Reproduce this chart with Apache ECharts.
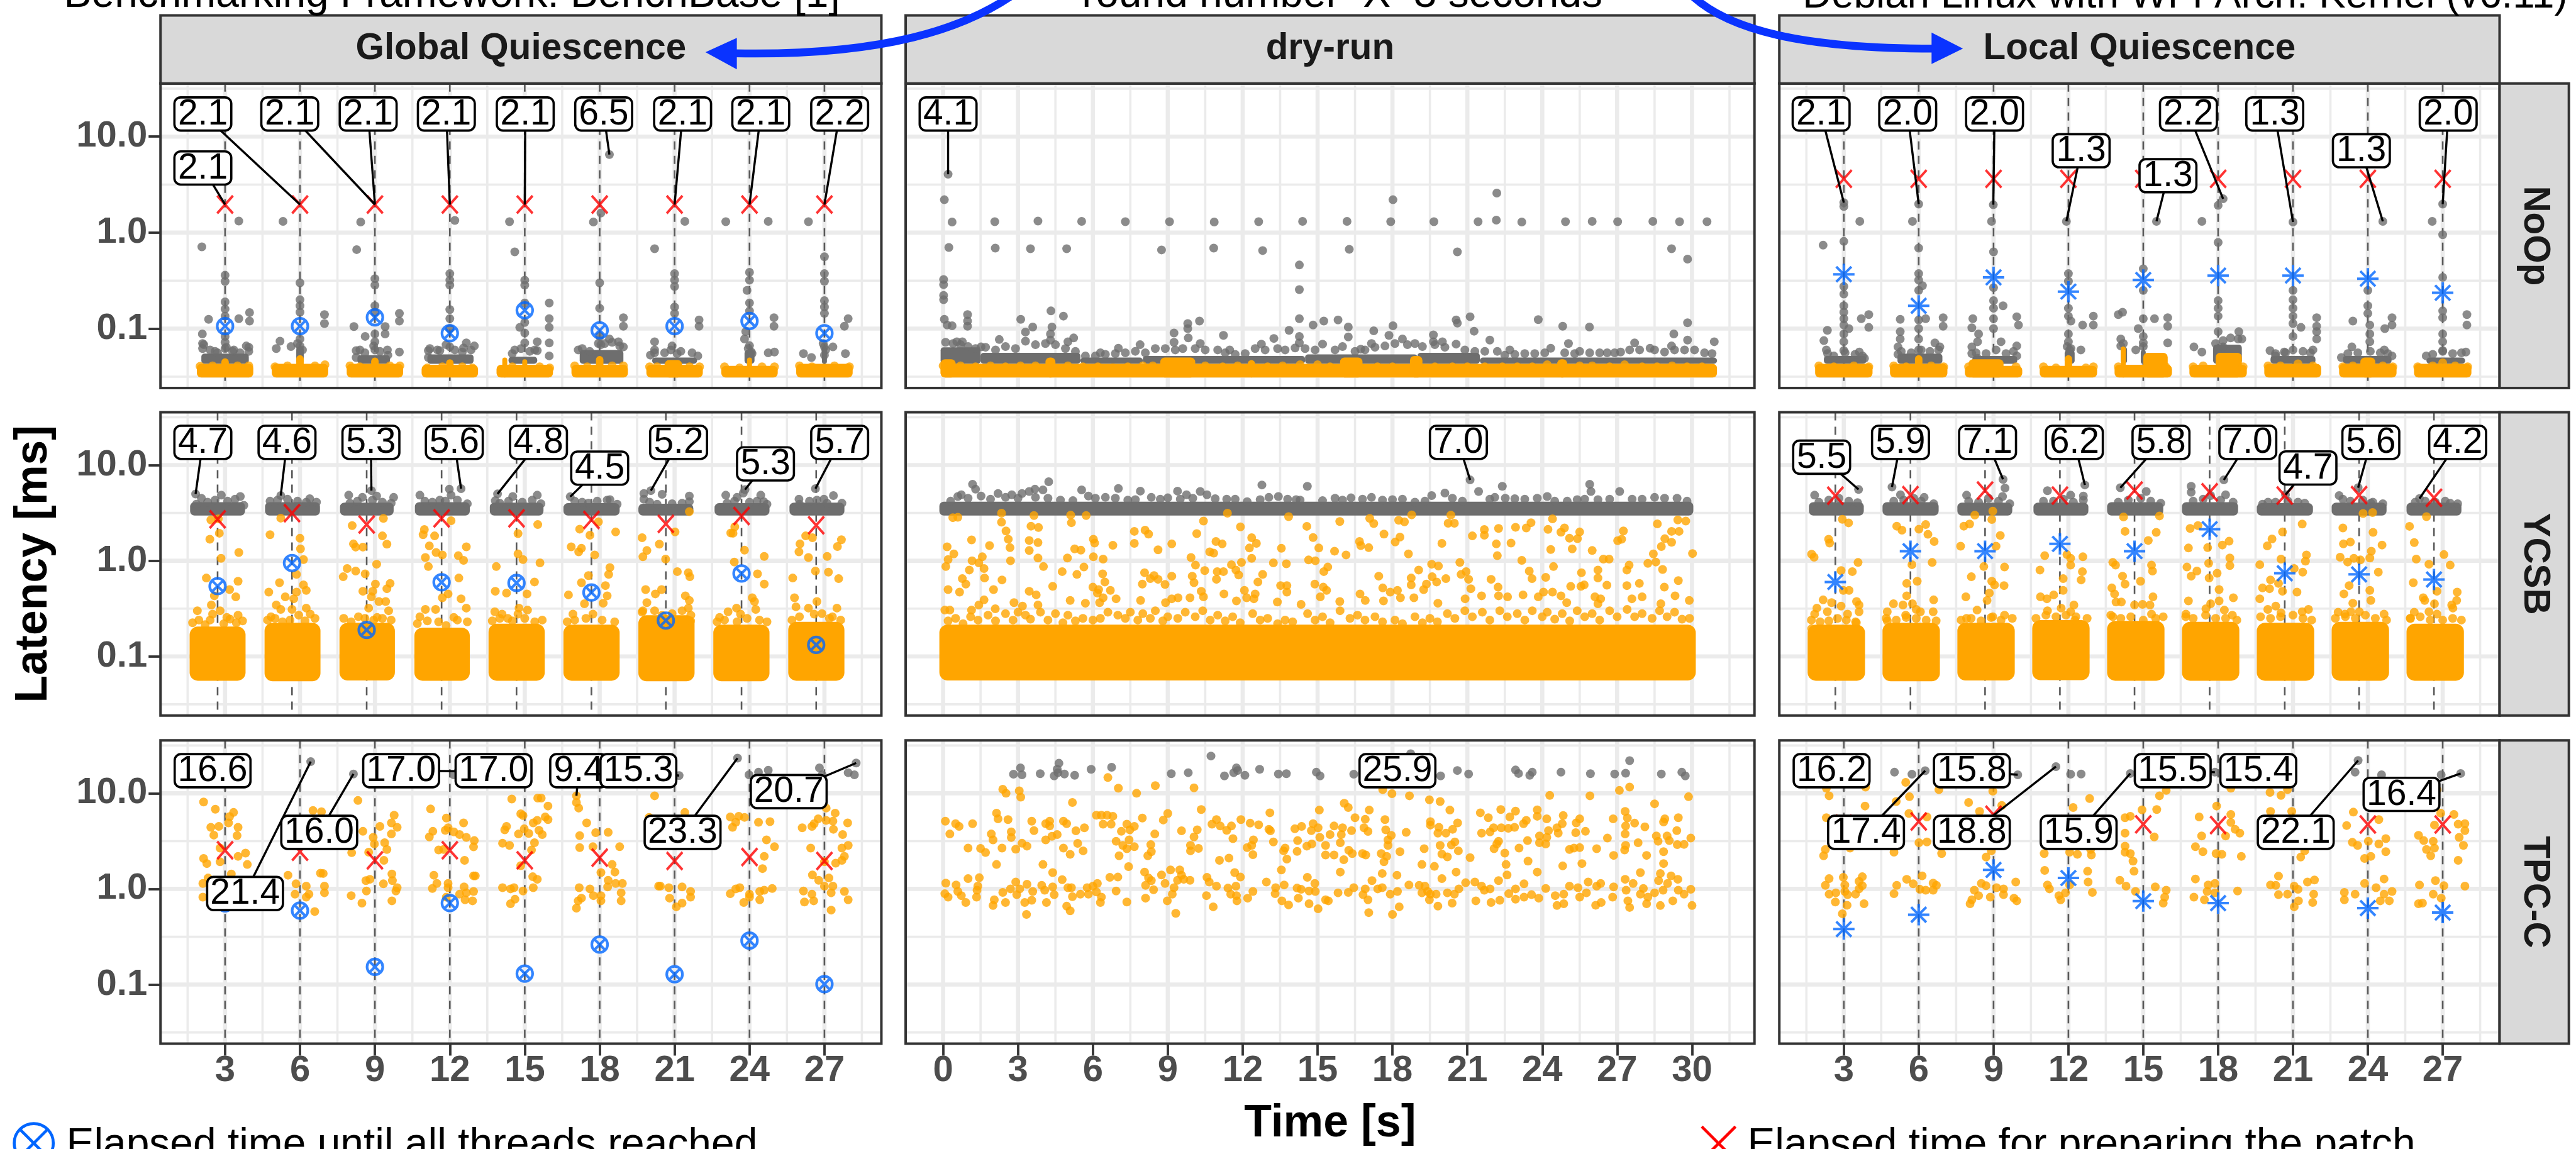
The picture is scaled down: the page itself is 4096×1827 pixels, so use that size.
<!DOCTYPE html>
<html><head><meta charset="utf-8">
<style>html,body{margin:0;padding:0;background:#fff}#c{width:4096px;height:1827px}</style>
<script src="https://cdn.jsdelivr.net/npm/echarts@6/dist/echarts.min.js"></script>
</head><body><div id="c"></div>
<script>
// ---------- axis / category data ----------
const columnNames=['Global Quiescence','dry-run','Local Quiescence'];
const rowNames=['NoOp','YCSB','TPC-C'];
const xTicksRound=[3,6,9,12,15,18,21,24,27];
const xTicksDry=[0,3,6,9,12,15,18,21,24,27,30];
const yTicks=[0.1,1,10];
const yMajor=[0.1,1,10];
const yMinor=[0.0316,0.316,3.16,31.6];
const xMajorRound=[3,6,9,12,15,18,21,24,27];
const xMinorRound=[1.5,4.5,7.5,10.5,13.5,16.5,19.5,22.5,25.5,28.5];
const xMajorDry=[0,3,6,9,12,15,18,21,24,27,30];
const xMinorDry=[-1.5,1.5,4.5,7.5,10.5,13.5,16.5,19.5,22.5,25.5,28.5,31.5];
// round start times (dashed lines); YCSB rounds are offset a little
const roundsPlain=[3,6,9,12,15,18,21,24,27];
const roundsGqYcsb=[2.7,5.68,8.67,11.67,14.67,17.67,20.65,23.68,26.67];
const roundsLqYcsb=[2.66,5.67,8.66,11.66,14.65,17.66,20.67,23.65,26.65];
// ---------- marker series ----------
const redGqNoop=[1.96,1.96,1.96,1.96,1.96,1.96,1.96,1.96,1.96];
const blueGqNoop=[.106,.106,.131,.0895,.155,.096,.106,.12,.0895];
const redGqYcsb=[2.71,3.14,2.39,2.77,2.77,2.67,2.43,2.94,2.35];
const blueGqYcsb=[.543,.947,.189,.596,.586,.466,.237,.736,.132];
const redGqTpcc=[2.53,2.45,1.99,2.53,1.99,2.12,1.96,2.15,1.96];
const blueGqTpcc=[.707,.593,.153,.711,.13,.262,.128,.288,.101];
const redLqNoop=[3.63,3.63,3.63,3.63,3.63,3.63,3.63,3.63,3.63];
const blueLqNoop=[.368,.173,.342,.243,.321,.357,.357,.331,.236];
const redLqYcsb=[4.78,4.86,5.42,4.8,5.42,5.21,4.8,4.86,4.55];
const blueLqYcsb=[.6,1.26,1.26,1.5,1.26,2.14,.74,.72,.637];
const redLqTpcc=[4.8,5.07,5.97,4.74,4.74,4.65,4.57,4.71,4.71];
const blueLqTpcc=[.38,.537,1.58,1.3,.745,.71,4.56,.63,.566];
// ---------- dense bands: [t0,t1,lowMs,highMs] ----------
const gqNoopGrayBand=[[2.05,3.95,.043,.055],[5.85,6.15,.043,.065],[8.3,9.6,.043,.053],[11.1,12.95,.043,.054],[14.35,15.5,.043,.051],[17.2,18.95,.043,.06],[20.1,21.9,.043,.05],[23.8,24.2,.043,.06],[26.9,27.1,.043,.065]];
const gqNoopOrangeBand=[[1.87,4.13,.031,.043],[2.85,3.15,.031,.049],[4.87,7.13,.031,.043],[5.85,6.15,.031,.053],[7.87,10.13,.031,.043],[8.85,9.15,.031,.05],[10.87,13.13,.031,.042],[11.85,12.15,.031,.048],[13.87,16.13,.031,.042],[14.1,14.3,.031,.05],[14.9,15.1,.031,.048],[16.87,19.13,.031,.042],[17.85,18.15,.031,.052],[19.87,22.13,.031,.042],[20.6,21.3,.031,.047],[22.87,25.13,.031,.041],[23.9,24.1,.031,.05],[25.87,28.13,.031,.043]];
const lqNoopGrayBand=[[2.2,3.9,.043,.052],[5.15,6.95,.043,.055],[8.15,9.95,.043,.052],[11.85,12.25,.043,.06],[14.1,14.35,.043,.065],[14.9,15.1,.043,.06],[17.8,18.95,.043,.068],[20.1,21.9,.043,.052],[23,24.95,.043,.052],[26.35,27.9,.043,.05]];
const lqNoopOrangeBand=[[1.85,4.15,.031,.043],[4.85,7.15,.031,.043],[5.85,6.15,.031,.053],[7.85,10.15,.031,.041],[8,9.4,.031,.048],[10.85,13.15,.031,.041],[11.85,12.15,.031,.053],[13.85,16.15,.031,.042],[14.1,14.3,.031,.065],[15,15.98,.031,.056],[16.85,19.15,.031,.042],[17.9,18.95,.031,.056],[19.85,22.13,.031,.043],[22.85,25.15,.031,.043],[23.7,24.3,.031,.05],[25.85,28.15,.031,.043]];
const dryNoopGrayBand=[[-.1,1.5,.043,.064],[1.5,5.5,.043,.056],[5.5,8,.043,.05],[8,14.5,.043,.052],[14.5,19,.043,.054],[19,21.5,.043,.056],[21.5,31,.043,.05]];
const dryNoopOrangeBand=[[-.1,31,.031,.043],[-.1,.5,.031,.048],[4.1,4.5,.031,.05],[8.7,10.1,.031,.05],[12.2,12.5,.031,.047],[15.9,16.8,.031,.05],[18.7,19.2,.031,.052],[24.6,25,.031,.048]];
const gqYcsbGrayBand=[[1.6,3.8,2.97,4.1],[4.6,6.8,2.97,4.1],[7.6,9.75,2.97,4.05],[10.6,12.8,2.97,4.1],[13.6,15.75,2.97,4.05],[16.55,18.8,2.97,4],[19.55,21.75,2.97,3.95],[22.6,24.8,2.97,4],[25.6,27.8,2.97,4.05]];
const gqYcsbOrangeBand=[[1.58,3.82,.0557,.205],[4.58,6.82,.055,.225],[7.58,9.8,.056,.225],[10.58,12.8,.0557,.2],[13.55,15.8,.0557,.22],[16.55,18.8,.0557,.215],[19.55,21.8,.055,.27],[22.55,24.8,.055,.215],[25.55,27.8,.0557,.23]];
const dryYcsbGrayBand=[[-.15,30.05,2.97,4.15]];
const dryYcsbOrangeBand=[[-.15,30.15,.056,.215]];
const lqYcsbGrayBand=[[1.6,3.8,2.97,4.1],[4.55,6.8,2.97,4.1],[7.55,9.75,2.97,4.05],[10.6,12.8,2.97,4.05],[13.55,15.8,2.97,4.1],[16.55,18.8,2.97,4.1],[19.55,21.8,2.97,4],[22.55,24.75,2.97,4.05],[25.55,27.75,2.97,4.05]];
const lqYcsbOrangeBand=[[1.55,3.85,.0557,.215],[4.55,6.85,.055,.225],[7.55,9.85,.056,.225],[10.55,12.85,.0565,.24],[13.55,15.85,.0557,.235],[16.55,18.85,.0557,.23],[19.55,21.85,.0557,.225],[22.55,24.85,.0557,.23],[25.55,27.85,.0557,.22]];
// ---------- points: t,ms,t,ms,... ----------
const gqNoopGray=[3.55,1.32,2.07,.71,3,.36,3,.31,3,.19,3,.16,3,.135,2.34,.125,3.55,.127,3.98,.147,3.98,.12,2.09,.088,3,.083,3,.072,2.1,.07,2.1,.062,3,.062,3.95,.064,3.95,.058,2.6,.058,3.3,.058,
5.32,1.31,6,.3,6,.2,6,.173,6,.148,6.98,.14,6.98,.113,5.2,.074,5.05,.062,5.64,.065,6,.078,6,.066,
8.43,1.29,8.27,.665,9,.331,9,.284,9,.173,9,.148,9.98,.144,9.98,.12,8.16,.105,8.61,.083,9.41,.105,9.41,.088,9,.088,9,.073,8.25,.059,8.25,.05,9,.06,9.52,.053,9.98,.057,
12.2,1.34,12,.374,12,.32,12,.284,12,.158,12,.127,12,.1,11.14,.059,11.14,.05,12.66,.071,12.98,.066,12,.0645,11.6,.059,12.5,.057,
14.39,1.3,14.6,.63,15,.32,15,.284,15.98,.185,15.98,.127,15.98,.103,15,.185,15,.116,14.8,.103,15,.09,15.98,.071,15.98,.052,14.6,.06,15,.071,15.5,.073,15.5,.059,
18.39,6.5,18.05,1.6,17.75,1.29,18,.3,18,.163,18.95,.13,18.95,.106,18,.083,18.39,.078,18.75,.073,18.95,.0645,17.14,.06,18.05,.068,
21.41,1.31,20.2,.68,21,.374,21,.32,21,.275,21,.168,21,.144,21.98,.123,21.98,.106,20.2,.073,20.2,.06,20.03,.053,20.9,.066,21.1,.055,21.93,.052,
23.05,1.3,24.75,1.31,24,.386,24,.32,23.9,.25,24,.185,24,.153,24.98,.13,24.98,.106,23.85,.093,23.8,.078,24,.0665,24.07,.057,24.75,.056,25,.057,
26.36,1.3,27,.56,27,.374,27,.311,27,.196,27,.168,27,.144,27.95,.127,27.8,.106,27.34,.0645,26.16,.055,26.48,.05,27,.0645,27,.053,27.84,.055,
2.15,.068,2.4,.06,2.7,.056,3.05,.064,3.35,.06,3.6,.056,3.85,.066,5.9,.07,6.1,.06,8.4,.06,8.6,.056,8.95,.066,9.2,.058,9.5,.06,11.2,.062,11.5,.06,11.85,.068,12.2,.06,12.55,.063,12.85,.06,14.5,.055,14.85,.062,15.2,.058,15.4,.06,17.3,.062,17.6,.058,17.95,.07,18.2,.07,18.5,.072,18.8,.066,20.2,.056,20.6,.056,20.85,.06,21.25,.058,21.7,.056,23.95,.062,24.1,.055,26.95,.07,27.05,.06];
const lqNoopGray=[3,2.05,3,1.87,3.64,1.31,2.17,.74,3,.81,3,.275,3,.229,3,.173,3,.148,3,.127,3,.109,4,.14,4,.103,3.7,.127,3.2,.1,2.34,.096,3,.088,3,.073,2.2,.075,2.3,.06,3.62,.057,3,.059,3.83,.049,
6,1.98,5.75,1.31,6,.69,6,.374,6,.32,6.15,.28,6,.25,6.98,.13,6.98,.106,5.26,.125,6.28,.127,6,.123,6,.1,5.26,.093,5.26,.078,6,.078,6.65,.071,6.85,.0645,5.17,.0645,5.17,.054,6,.06,
8.99,1.95,8.92,1.31,9,.63,9,.267,9,.196,9,.163,9,.127,9.38,.173,8.17,.127,9.93,.133,10,.109,8.13,.102,8.4,.088,8.36,.073,8.13,.0645,8.13,.055,9,.1,9.3,.073,9.93,.066,8.36,.049,9.93,.052,
11.92,1.31,12,.374,12,.311,12,.163,12,.135,12.1,.12,13,.135,13,.109,12.57,.109,12,.088,12,.073,12.5,.06,12.05,.06,
15.53,1.31,15,.42,15,.25,14.17,.148,14,.14,15,.127,15.45,.127,15.98,.13,15.98,.106,14.8,.1,15,.083,15.98,.071,14.1,.078,14.1,.066,14.7,.06,15,.071,
18.2,2.25,18,1.92,17.35,1.31,18,.79,18,.196,18,.163,18,.135,18,.093,18.83,.093,18.95,.078,17.03,.0645,17.35,.057,18.2,.0645,
21,1.29,21,.25,21,.2,21,.163,21,.135,21,.113,21.95,.13,21.95,.106,21.95,.093,21.95,.078,21.32,.103,21,.083,20.08,.059,20.3,.052,20.65,.057,21.8,.06,
24.6,1.31,24,.25,24,.173,24,.144,24.97,.13,24.97,.109,23.4,.12,24.68,.1,24.08,.109,24.08,.088,24.08,.073,22.94,.05,23.36,.0645,24.66,.06,24.97,.052,
27,1.98,26.58,1.31,27,.95,27,.342,27,.153,27,.13,27.97,.14,27.97,.109,27,.088,27,.073,26.34,.052,27.93,.057,27,.059,
2.35,.055,2.6,.052,3.05,.056,3.45,.054,3.75,.052,5.3,.058,5.7,.056,6.1,.06,6.45,.058,6.8,.06,8.3,.056,8.7,.055,9.1,.06,9.5,.055,9.8,.058,11.95,.065,12.1,.062,14.2,.07,15,.065,17.9,.07,18.2,.075,18.5,.08,18.8,.078,20.3,.055,20.7,.056,21,.06,21.4,.058,21.7,.056,23.2,.055,23.6,.056,24.1,.058,24.5,.056,24.8,.055,26.6,.054,27,.058,27.4,.055,27.75,.056];
const dryNoopGray=[.2,4.05,.05,2.2,.36,1.29,2.07,1.3,3.8,1.32,5.55,1.31,7.3,1.3,9.07,1.3,10.86,1.29,12.64,1.3,14.4,1.31,16.18,1.31,17.93,1.3,19.66,1.3,21.43,1.3,23.18,1.29,24.93,1.3,26,1.31,27.02,1.3,28.43,1.31,29.5,1.3,30.6,1.3,18.02,2.2,22.18,2.58,22.16,1.35,.23,.7,2.09,.69,3.5,.68,4.95,.68,8.75,.66,10.84,.69,12.8,.65,16.27,.67,20.6,.63,29.18,.68,29.82,.53,14.27,.46,14.27,.255,.02,.325,.02,.287,.02,.222,.02,.2,.05,.125,.16,.109,.36,.107,.98,.14,.98,.12,.98,.106,3.11,.125,4.32,.153,4.82,.135,3.59,.104,4.36,.104,3.3,.092,2.25,.077,3.3,.074,4.3,.088,4.3,.076,5.23,.08,5,.073,7.89,.068,7.02,.0625,10.27,.12,9.8,.113,9.8,.1,9.25,.09,9.82,.08,9.25,.072,11.23,.085,10.3,.07,11.48,.06,13.25,.079,13.86,.096,14.27,.127,14.82,.109,15.25,.12,15.82,.123,16.23,.104,16.23,.082,17.25,.095,18.02,.107,17.86,.085,17.16,.07,16.73,.061,14.27,.083,14.27,.071,12.75,.069,15.2,.069,18.4,.078,19.64,.086,19.64,.073,20.55,.123,20.6,.114,21.11,.133,21.27,.094,21.9,.076,20,.073,20.55,.069,23.84,.124,24.82,.106,25.89,.104,25.05,.07,22.7,.06,24.34,.0625,27.7,.071,29.82,.115,29.27,.088,29.82,.076,29.18,.066,30.89,.073,28.32,.0625,27.14,.057,.55,.073,.77,.073,1.52,.0645,30.1,.06,2.5,.065,6.3,.056,9.6,.062,11,.06,13.4,.062,16,.065,18.6,.068,19.2,.065,22.2,.058,25.5,.058,26.6,.056,28.9,.057,
.1,.072,.4,.07,.7,.068,1,.065,1.3,.062,1.7,.064,2.1,.06,2.9,.062,3.7,.068,4.1,.07,4.5,.068,4.9,.062,5.3,.058,5.7,.052,6.1,.052,6.5,.054,6.9,.055,7.3,.056,7.7,.058,8.1,.056,8.5,.062,8.9,.062,9.3,.06,10.1,.062,10.5,.06,11.3,.056,11.7,.054,12.1,.055,12.5,.062,12.9,.06,13.7,.06,14.1,.063,14.5,.062,14.9,.06,15.7,.06,16.5,.058,16.9,.06,17.3,.064,17.7,.066,18.1,.07,18.9,.07,19.7,.068,20.1,.064,20.9,.06,21.3,.058,21.7,.058,22.5,.053,22.9,.054,23.3,.055,23.7,.055,24.1,.056,24.9,.056,25.3,.055,25.9,.056,26.3,.056,26.9,.056,27.5,.06,27.9,.06,28.5,.06,29.3,.06,29.7,.06,30.5,.056,30.8,.055];
const gqYcsbGray=[1.82,4.99,2.85,4.85,3.61,4.7,2.05,4.5,5.23,4.8,6.39,4.45,6.66,4.1,8.86,5.41,7.95,4.85,8.5,4.6,9.75,4.6,9.07,4.75,12.45,5.67,11.98,5.6,10.8,4.85,12.05,4.85,11.82,4.2,13.91,5,14.52,4.7,15.5,4.85,13.82,4.25,16.82,4.67,18.41,4.35,17.55,4,20.05,5.41,19.77,5.05,20.5,4.95,19.77,4.4,21.59,4.75,21.59,4.15,23.82,5.55,23.05,4.85,23.5,4.6,24.45,4.85,24.57,4.15,23.75,5.1,26.64,5.67,27.36,4.8,25.98,4.4,26.98,4.4,
1.85,3.9,2.3,4.1,2.6,4.3,3.1,4.2,3.4,4.4,3.75,3.8,4.8,4.2,5.1,4.3,5.5,4.4,5.9,4.2,6.25,4.1,8,4,8.3,4.2,8.9,4.3,9.3,4.1,9.65,4,11,4.2,11.3,4.1,11.6,4.3,12.3,4.3,12.7,3.95,14,4,14.35,4.2,14.9,4.1,15.3,4.3,15.65,3.95,17,4.2,17.3,4.1,17.9,4.2,18.3,4.3,18.7,3.9,20,4.1,20.3,3.9,20.9,3.95,21.3,4,23.1,4,23.4,4.2,24,4.1,24.3,4.2,24.7,3.9,26,3.9,26.4,4.2,26.7,4.3,27.1,4,27.7,4];
const lqYcsbGray=[3.59,5.56,4.93,5.9,9.38,7.1,12.66,6.2,14.08,5.8,18.23,7,20.7,4.9,23.61,5.8,26.07,4.47,1.83,4.85,5.27,4.9,6.22,4.6,9.46,5.75,7.92,4.85,9.36,4.7,11.16,5.4,12.09,4.85,12.6,4.75,15.12,5.3,16.92,6,16.92,5.2,18.3,4.9,22.85,4.8,24.12,4,27.3,4,21.47,4,19.78,3.9,
2,4.1,2.4,4.3,2.8,4.5,3.2,4.2,3.55,4.05,5,4.2,5.4,4.3,5.8,4.5,6.1,4.2,6.6,3.95,8,4.2,8.4,4.1,8.8,4.5,9.2,4.2,9.65,3.95,11,4.2,11.4,4.2,11.8,4.4,12.2,4.1,12.6,4.3,14,4.1,14.4,4.3,14.9,4.5,15.3,4.2,15.7,4,17,4.2,17.4,4.4,17.7,4.8,18.1,4.3,18.6,4.1,20,4.1,20.3,4.1,20.8,4.2,21.2,4.1,23,4.4,23.3,4.2,23.8,4.3,24.2,4.1,24.6,3.95,25.9,4.1,26.3,4.2,26.7,4.1,27.1,4.2,27.6,3.95];
const dryYcsbGray=[1.18,6.3,1.3,5.6,4.23,6.7,4,5.5,3.68,5.6,5.55,5.5,7.02,5.7,7.9,5.35,9.39,5.35,10.3,5.3,10.57,4.9,9.75,4.9,12.77,6.2,14.59,6,21.11,7,22.4,6,21.45,5.3,19.57,4.8,20.1,5.1,22.1,4.6,25.9,6.3,25.95,5.3,27.1,5.3,24.2,4.7,22.52,4.5,28.5,4.6,29.4,4.5,.59,4.7,.73,4.9,1.52,4.75,2.2,5.05,2.75,4.9,3.16,5.05,3.45,5.3,5.82,4.75,6.5,4.6,8.34,4.6,9,4.55,11.36,4.4,12.18,4.15,13.43,4.7,13.05,4.6,14.14,4.35,15.7,4.5,17.16,4.6,18.4,4.4,16.34,4.55,24.5,4.2,25.4,4.35,26.23,4.35,
.3,4.2,1,4.5,1.9,4.4,2.5,4.6,3,4.5,3.7,4.6,4.2,4.5,4.7,4.3,5.2,4.25,6.1,4.5,6.9,4.5,7.4,4.3,7.7,4.35,8.7,4.4,9.5,4.4,10,4.5,10.9,4.45,11.7,4.4,12.7,4.35,13.8,4.4,14.3,4.3,15.2,4.25,16,4.3,16.8,4.4,17.6,4.3,18,4.35,18.9,4.1,19.3,4.2,20.4,4.5,20.8,4.2,21.9,4.4,22.9,4.45,23.3,4.4,23.8,4.5,25,4.2,25.7,4.4,26.7,4.4,27.6,4.4,28,4.4,28.9,4.5,29.8,4.2];
const gqTpccGray=[2.91,16.4,3.75,16.1,6.43,21.4,8.14,15.9,8.77,15.9,12.16,15.6,12.34,17,15.11,16.9,21.18,15.3,23.52,23.3,23.98,15.6,24.36,16.6,24.75,17.4,26.8,18.4,26.91,15.6,27.95,16.4,28.2,15.6,28.27,20.7];
const lqTpccGray=[2.36,15.6,3.04,15.8,3.25,16.2,3.89,16.1,5.03,16.6,5.73,15.8,6.26,17.2,9.97,15.6,11.5,19,12.09,15.8,12.51,15.9,14.48,16.1,15.27,15.6,15.6,15.4,17.87,16.6,23.61,22,23.49,16.6,24.55,15.6,26.94,15.6,27.72,16.1];
const dryTpccGray=[10.73,24.5,18.73,25.9,4.64,20.6,27.5,21.9,3.1,18.4,6.75,18.7,5.93,17.8,4.57,17.8,2.82,15.8,3.16,15.6,3.89,16,4.45,15.2,4.6,16.4,4.86,15.9,5.27,15.4,9.14,16,9.82,16.4,11.27,15.2,11.64,16.4,11.75,18.4,11.8,17.3,12.09,15.4,12.68,17.8,13.43,15.9,13.75,16,14.95,16.6,15.1,15.2,16.45,15.8,16.8,16.6,17.25,16.1,18,16.4,18.55,15.6,19.93,15.2,20.6,17.3,21.05,15.9,22.93,17.5,23.05,16.1,23.5,15.4,23.6,16.6,24.75,16.6,25.93,16,26.9,15.9,27.34,16.2,28.77,15.9,29.59,16.6,29.73,15.2];
const gqNoopOrange=[2,.0405,2.5,.041,3.5,.041,3.95,.041,5,.04,5.5,.041,6.6,.041,7,.042,8,.041,8.4,.04,9.6,.041,10,.041,11.1,.039,11.7,.04,12.5,.04,12.9,.039,14.5,.04,15.6,.04,16,.039,17,.041,17.5,.04,18.5,.041,18.95,.041,20,.04,20.3,.04,21.6,.04,22,.04,23,.04,23.6,.039,24.5,.04,25,.04,26,.041,26.5,.04,27.4,.041,28,.04];
const lqNoopOrange=[2,.041,2.6,.04,3.4,.041,4,.04,5,.041,5.5,.04,6.5,.041,7,.04,8,.04,9.9,.04,11,.04,11.5,.039,12.7,.039,13,.04,14,.04,15.9,.04,17,.04,17.4,.041,19,.04,20,.041,20.5,.041,21.2,.043,21.8,.041,23,.04,23.4,.041,24.6,.041,25,.04,26,.04,26.6,.041,27,.044,27.5,.041,28,.04];
const dryNoopOrange=[0,.041,.7,.041,1.3,.04,1.9,.041,2.5,.04,3.1,.041,3.7,.041,5,.041,5.6,.04,6.2,.04,6.8,.039,7.4,.04,8,.041,8.4,.041,10.5,.041,11.2,.04,11.8,.041,13,.04,13.6,.041,14.3,.042,15,.042,15.5,.04,17.4,.04,18,.04,19.7,.04,20.4,.04,21,.04,21.7,.04,22.4,.04,23,.04,23.6,.04,24.2,.042,25.5,.041,26,.041,26.7,.04,27.3,.042,28,.04,28.6,.04,29.2,.041,29.8,.04,30.4,.04];
const gqYcsbOrange=[2.43,2.67,2.73,2.74,2.77,1.94,2.39,1.68,3.55,1.22,2.84,1.06,2.25,.66,3.52,.61,3.18,.5,2.57,.43,3.43,.42,2.45,.345,1.89,.3,2.8,.3,2.5,.277,3.52,.27,3.07,.256,
5.23,2.79,4.8,1.87,6,1.72,6.02,1.33,6.14,1.03,5.18,.59,5.86,.72,4.75,.47,6.14,.56,6.25,.49,5.86,.47,5.41,.42,5.75,.4,5.05,.345,5.23,.31,5.68,.31,6.25,.32,6.41,.277,4.84,.26,
9.34,2.77,8.09,2.33,9.3,1.82,8.14,1.5,8.52,1.39,9.48,1.49,8.23,1.39,9.07,.92,7.89,.83,8.23,.78,8.61,.73,7.73,.68,9.02,.57,9.61,.58,9.48,.51,8.52,.48,8.91,.48,8.86,.42,9.16,.375,9.43,.375,8.75,.32,9.55,.3,9.09,.256,8.34,.26,
12.05,2.62,10.98,2.12,11.39,1.82,10.93,1.87,11.18,1.43,12.66,1.4,11.45,1.22,11.7,1.15,12.34,1.13,11.02,1.08,12.55,1.01,11.14,.87,12.36,.66,11.93,.45,11.7,.41,12.45,.4,11.02,.31,11.43,.31,12.66,.32,10.8,.26,12.16,.256,
15.52,2.39,14.73,1.92,14.73,1.18,14.93,1.03,15.61,.95,13.86,.87,15.39,.6,13.82,.48,14.27,.46,15.09,.45,14.77,.32,15.11,.305,13.8,.293,14.09,.277,14.73,.277,14.32,.25,
17.95,2.55,17.2,2.14,18.64,2,17.61,1.85,16.86,1.4,17.27,1.35,17.16,1.24,17.8,1.15,18.41,.85,18.36,.72,17.55,.7,17.27,.59,18.23,.55,16.75,.44,18.3,.43,18.14,.36,17.39,.355,17.73,.277,16.93,.277,
21.59,3.26,21.02,2,19.7,1.74,20.39,1.49,19.89,1.28,19.73,1.1,20.64,1.04,21.11,.77,21.55,.75,21.61,.68,19.84,.5,20.48,.5,20.23,.45,21.43,.43,21.59,.385,19.89,.365,21.55,.32,19.73,.3,21.64,.235,
23.41,2.26,23.25,1.95,23.34,1.94,23.8,1.29,23.39,.97,24.59,1.11,24.32,.73,24.59,.57,24.11,.41,24.2,.375,23.48,.32,24.25,.31,23.14,.293,22.8,.256,23.64,.277,
26.25,1.82,26.52,1.74,26.02,1.5,27.68,1.66,27.52,1.41,25.98,1.24,26.36,1.08,27.11,1.11,26.64,.78,27.16,.76,27.57,.65,25.73,.66,25.8,.41,25.86,.33,26.7,.375,27.5,.32,27.32,.26,26.59,.277,26.36,.32,
1.7,.225,1.95,.24,2.2,.215,2.4,.24,2.95,.22,3.2,.245,3.45,.225,3.7,.235,4.7,.24,5,.25,5.3,.23,5.6,.24,5.95,.27,6.2,.235,6.6,.25,7.75,.25,8.05,.23,8.6,.25,8.95,.24,9.3,.25,9.65,.24,10.7,.22,11.1,.235,11.55,.23,11.85,.21,12.3,.24,12.7,.23,13.7,.235,14,.25,14.5,.235,15,.25,15.4,.23,15.7,.24,16.7,.23,17,.24,17.45,.25,18.1,.24,18.6,.23,19.7,.29,20.2,.3,20.5,.27,20.9,.28,21.3,.3,21.65,.27,22.7,.23,23,.24,23.5,.23,23.9,.25,24.4,.24,24.7,.23,25.7,.24,26,.26,26.9,.28,27.2,.25,27.65,.24];
const lqYcsbOrange=[2.94,2.71,3.19,2.49,2.39,1.68,2.43,1.53,1.71,1.17,1.81,1.09,3.57,.96,2.89,.79,3.34,.77,3.21,.49,2.98,.49,2.17,.39,3.51,.375,3.61,.345,3.61,.293,1.92,.32,1.83,.277,2.89,.336,2.51,.365,3.15,.277,2.34,.293,3.47,.23,1.71,.195,
6.28,2.39,5.12,2.3,5.33,2.09,6.01,2.14,6.37,1.89,6.62,1.59,6.54,.96,5.73,.91,5.52,.58,5.94,.61,5.52,.43,6.6,.39,4.99,.355,5.37,.345,5.75,.355,4.74,.293,5.9,.31,6.58,.293,6.07,.293,5.48,.27,4.74,.235,
8.25,3,8.97,3.3,8.93,2.7,8.04,2.42,7.81,2.3,9.27,1.84,7.68,1.42,9.1,1.42,8.61,.87,9.44,.86,8.11,.68,8.93,.61,9.42,.55,9.04,.56,7.89,.42,8.83,.46,8.74,.385,8.34,.305,9.44,.27,8.97,.26,7.92,.25,
11.94,1.16,12.58,1.1,11.05,1.13,12.09,1.06,12.09,.9,10.86,.8,12.56,.77,11.79,.65,12.51,.63,11.79,.49,10.88,.42,11.41,.44,11.14,.4,12.22,.345,11.71,.32,11.16,.3,12.09,.293,12.26,.24,
14.21,2.87,15.65,2.94,14.27,2.03,15.52,1.98,15.2,1.63,13.78,.96,13.89,.9,15.33,.9,15.37,.78,14.17,.69,14.89,.61,14.27,.57,13.74,.52,13.85,.45,15.39,.42,13.91,.37,14.12,.37,14.65,.345,15.27,.345,14.97,.35,13.78,.26,15.33,.277,
16.88,2.18,17.19,2.33,16.81,1.36,17.58,1.37,18.17,1.46,18.44,1.6,18.47,1.07,17.62,.94,16.75,.86,17.15,.78,18.47,.89,16.92,.69,17.96,.74,17.64,.66,18.04,.5,18.61,.41,16.81,.38,18.04,.38,17.7,.355,17.51,.315,18.25,.305,18.57,.27,16.71,.277,
21.37,2.42,20.58,2,20.16,1.69,19.97,1.43,21.54,1.15,21.5,.99,20.52,1.04,19.67,.91,21.05,.83,21.39,.76,20.1,.63,20.42,.58,19.78,.52,20.06,.51,20.58,.48,21.16,.47,19.67,.4,20.31,.336,19.99,.31,21.62,.31,21.37,.293,20.52,.285,
23.81,3.12,24.19,3.19,23,2.2,24.21,1.98,23.02,1.5,23.3,1.57,24.57,1.46,24.14,1.26,24.08,1.07,22.89,1.09,23.44,1.06,23.7,1.02,23.19,.97,24.42,.76,23.25,.55,24.08,.49,23.04,.45,24.12,.385,23.4,.36,22.81,.29,23.32,.293,23.08,.277,24.65,.277,23.66,.293,
26.35,2.89,25.67,2.29,25.86,1.55,27.05,1.16,25.94,1.04,27.3,.9,26.45,.92,25.82,.59,27.58,.47,26.22,.41,26.77,.48,27.56,.385,26.28,.385,26.67,.355,27.36,.345,25.86,.29,26.45,.293,26.77,.277,27.41,.32,25.71,.25,
1.7,.24,2.05,.23,2.4,.235,2.75,.25,3.1,.24,3.5,.225,4.7,.25,5.1,.24,5.5,.255,5.9,.25,6.3,.24,6.7,.235,7.7,.24,8.1,.25,8.5,.235,8.9,.255,9.3,.24,9.75,.25,10.7,.25,11.1,.27,11.5,.26,11.9,.27,12.3,.26,12.75,.25,13.7,.27,14.1,.25,14.5,.26,15,.24,15.5,.25,15.8,.26,16.7,.26,17,.25,17.5,.27,17.9,.25,18.3,.25,18.75,.24,19.7,.26,20.1,.25,20.5,.26,21,.27,21.4,.25,21.75,.24,22.7,.25,23.1,.26,23.5,.25,23.9,.27,24.3,.25,24.75,.24,25.7,.25,26.1,.26,26.5,.24,27,.24,27.4,.25,27.75,.24];
const dryYcsbOrange=[2.34,3.14,3.64,2.97,5.11,3,5.73,2.97,.39,2.82,.59,2.85,2.34,2.53,5.14,2.5,3.52,2.3,3.82,2.23,2.52,2.05,2.61,1.68,1.14,1.65,1.86,1.44,.16,1.4,2.68,1.37,3.45,1.63,3.8,1.55,3.45,1.28,.43,1.18,3.8,1.07,.2,1.03,2.7,1,1.16,1,1.57,1.1,.11,.87,1.43,.95,1.64,.83,1.05,.8,.77,.65,.91,.57,1.66,.66,2.36,.63,.2,.5,.66,.47,2.02,.5,4.02,.87,4.77,.77,5.36,.72,5.64,.86,4.98,1.07,6.02,1.1,6.41,1.04,6.02,1.68,6.07,1.53,6.8,1.45,5.27,1.33,5.52,1.29,6.39,.73,6.48,.6,4.39,.54,6,.53,6.23,.5,6.7,.49,3.45,.48,3.73,.44,6.18,.46,6.41,.41,6.93,.4,5.09,.385,6.27,.365,5.7,.36,7.91,.385,1.64,.39,1.43,.345,2.84,.365,3.18,.336,3.8,.345,2.09,.315,1.14,.305,.07,.305,.27,.305,
7.66,2.03,8.09,2.09,8.23,1.9,7.66,1.52,9.16,1.5,8.61,1.3,8.07,.75,8.45,.7,8.3,.65,7.98,.57,8.61,.64,8.89,.565,9.16,.69,9.98,.69,10.05,.59,10.34,.48,11.25,.45,10.43,.42,9.89,.41,9.41,.41,9.16,.4,8.91,.365,10.16,1.92,10.43,2.6,11.91,2.26,11.39,3.14,12.36,1.74,12.55,1.52,12.27,1.36,10.93,1.59,11.18,1.5,10.68,1.24,10.84,1.2,13.55,1.35,9.93,1.08,10.11,.9,11.95,.96,11.55,.91,12.36,1.06,10.48,.79,10.98,.77,11.23,.77,11.73,.8,11.84,.71,12.8,.72,12.61,.6,10.95,.64,12.07,.49,12.5,.45,12.16,.41,12.45,.4,11.75,.38,13.39,.37,13.52,.55,13.77,.55,13.77,.47,13.23,.95,13.75,.93,
14.57,2.29,14.82,1.75,15.05,1.36,15.68,1.26,16.14,1.15,14.64,1.02,14.91,1,13.84,2.89,15.89,2.57,17.09,2.77,17.25,2.45,17.66,1.9,16.68,1.59,16.73,1.44,17.05,1.37,18.11,1.57,18.3,1.77,18.25,2.65,18.48,2.55,18.77,3.02,18.64,1.18,15.41,.86,15.25,.77,17.45,.69,14.89,.57,15.23,.53,15.36,.49,15.11,.42,14.34,.35,16.7,.45,15.89,.375,16.91,.385,17.64,.38,17.61,.52,17.91,.47,18.2,.49,18.32,.41,18.86,.41,18.75,.66,18.75,.56,19.25,.5,19.36,.57,19.05,.8,19.57,.92,19.84,.88,20.7,.96,20.95,.77,20.75,.72,21.05,.64,19.59,.68,19.77,.6,20.14,.65,21.14,.51,21.95,.64,22.23,.53,20.91,.4,21.57,.43,22.25,.43,22.61,.42,23.23,.44,19.82,.36,20.34,3,20.23,2.47,20.48,2.47,19.98,1.52,21.2,1.82,21.68,2.12,21.68,1.85,22.25,2.18,22.16,1.5,22.75,1.53,22.2,1.13,22.93,2.24,23.36,2.2,23.55,2.5,23.18,1.01,23.48,.78,23.59,.65,24.14,.67,24.41,2.74,24.23,2.13,24.89,2.2,24.75,1.99,25.5,2,25.09,1.72,25.41,1.7,24.34,1.31,25.2,1.33,26,1.28,24.45,.87,25.57,.75,26.23,.8,26.23,.66,25.14,.54,25.55,.54,25.68,.56,26.59,.555,24.05,.47,24.41,.47,24.75,.43,23.84,.42,24.98,.365,26.11,.42,26.34,.4,26.23,.355,27.25,2.05,27.02,1.62,27.18,1.68,26.45,1.04,26.68,1.04,27.48,.9,27.39,.8,28.23,.94,28.55,.97,27.39,.55,27.89,.58,28.89,.53,28.82,.81,29.45,.62,27.59,.4,28,.42,29.32,.43,29.89,.385,28.75,.355,28.61,2.43,29.43,2.67,29.75,2.6,29.48,2.03,29.18,2.03,28.91,1.7,29.18,1.56,28.77,1.41,28.45,1.18,30.02,1.19,
.5,.25,1.1,.26,1.8,.27,2.5,.28,3,.29,3.3,.27,3.9,.29,4.5,.28,5,.27,5.6,.25,6.6,.29,7,.27,7.5,.29,8,.28,8.5,.3,9,.26,9.7,.29,10.4,.3,11,.27,11.6,.26,12.4,.28,13,.25,13.7,.24,14.6,.28,15.2,.26,15.9,.3,16.6,.27,17.3,.26,18.1,.24,18.9,.26,19.5,.25,20.2,.28,20.9,.3,21.6,.29,22.3,.3,23,.28,23.6,.3,24.2,.29,24.8,.28,25.4,.3,26,.28,26.7,.3,27.4,.31,28,.28,28.7,.3,29.3,.29,29.9,.25,
.2,.235,.8,.22,1.4,.24,2.1,.235,2.8,.24,3.5,.245,4.2,.24,4.8,.225,5.3,.235,6,.24,6.3,.25,7.3,.25,7.8,.24,8.3,.25,8.8,.235,9.4,.25,10.1,.26,10.7,.24,11.3,.235,11.9,.225,12.7,.24,13.4,.22,14,.23,14.9,.24,15.5,.225,16.3,.25,16.9,.24,17.6,.23,18.4,.22,19.2,.225,19.8,.23,20.5,.25,21.2,.26,21.9,.24,22.6,.26,23.3,.24,24,.26,24.5,.245,25.1,.235,25.7,.26,26.3,.24,27,.26,27.7,.26,28.4,.25,29,.26,29.6,.245];
const gqTpccOrange=[2.14,8.1,2.61,6.8,3.34,6.3,3.18,5.7,3.14,4.9,2.43,4.4,2.75,4.5,3.52,4.4,2.55,3.65,3.48,3.6,2.8,2.67,3.82,2.37,3.52,2.19,2.14,2.08,2.27,1.84,2.8,1.92,3.89,1.8,3.25,1.43,2.32,1.3,2.11,1.14,2.11,.82,2.73,1.14,3.07,1.14,3.41,1.07,
6.52,6.6,6.86,6.4,5.45,5,6.18,5.1,5.52,4.1,8.07,3.46,8.07,2.39,5.52,1.39,6.82,1.46,6.93,1.45,5.84,1.13,6.25,1.07,6.98,1.07,6.98,.91,5.8,.88,6.36,.88,6.25,.82,6.59,.58,5.11,.72,
8.32,8.4,9.77,5.9,9.66,4.9,9.89,4.4,9.2,4.5,8.52,4,9.66,3.75,8.93,3.46,9.39,3.04,8.98,2.95,9.48,2.58,8.75,2.42,9.36,1.99,9.68,1.43,9.7,1.22,9.34,1.13,8.8,1.26,8.64,1.22,9.89,1.03,9.84,.95,8.66,.95,8.05,.85,8.48,.71,9.68,.75,
11.23,6.85,11.86,5.5,12.55,4.9,11.93,4.35,11.82,4.1,11.32,4,11.18,3.5,12.16,3.95,12.39,3.7,12.66,3.46,12.98,3.2,12.95,2.75,11.55,2.55,11.75,2.58,12.59,1.99,11.36,1.39,11.48,1.14,11.93,1.14,12.95,1.37,13.02,1.37,11.3,1.01,11.93,1.03,12.57,1.05,12.95,.94,12.66,.91,12.61,.77,12.91,.75,12.39,.88,11.86,.82,
14.48,8.7,15.52,8.9,15.66,8.9,15.93,7.35,14.84,6.1,14.93,5.85,15.5,5.2,15.34,4.9,15.82,5.65,15.93,5.3,14.27,4.5,14.2,4.15,14.98,4.25,14.75,3.75,15.16,3.8,15.57,4.1,15.7,3.7,14.11,3,15.39,3.04,14.39,2.85,15.27,2.55,14.84,1.75,15.32,1.34,15.5,1.26,14.11,1.03,14.43,1,14.57,1.03,14.93,.95,15.34,1.03,14.61,.78,14.43,.7,
17.07,9.4,17.07,8,17.16,7,17.48,4.9,17.2,3.6,17.84,3.87,18.34,3.9,17.73,2.76,17.2,2.7,18.8,2.76,18.5,1.8,18.05,1.48,18.61,1.5,18.34,1.23,18.64,1.14,18.91,1.14,18.32,1.05,17.18,1.03,17.61,1,18.86,.91,18.86,.75,17.75,.85,18.05,.85,18.05,.75,17.27,.8,17.14,.75,17.07,.63,
20.2,9.4,21.41,6.3,19.98,5.6,20.09,3.95,21,4.1,20.32,3.46,20.77,3.46,20.36,1.07,20.43,1.07,20.77,1.03,21.3,1.05,21.64,.94,21.64,.82,20.8,.8,21.3,.71,21.07,.65,
24.3,10.9,24.52,8.7,24.64,7.6,23.23,5.65,23.57,5.75,23.8,5.6,23.45,4.97,23.32,4.4,24.36,4.97,24.82,5.05,24.68,3.25,25,2.76,24.59,2.19,24.52,1.63,23.61,1.03,23.45,1,24,.88,24.41,.94,24.59,.97,24.91,1.01,23.23,.89,24.41,.77,23.77,.72,24,.82,
26.43,9.2,27.07,7,27.43,6.2,26.11,4.35,26.5,4.5,26.59,4.8,26.75,5.4,27.07,5.2,27.34,5.1,27.93,4.9,27.36,4.2,27.73,3.7,27.95,2.85,27.7,2.67,26.45,2.67,27.8,2.19,27.7,1.99,27,1.92,27.45,1.86,26.52,1.4,26.77,1.23,27.18,1.3,27.34,1.07,27,1.07,27.27,.91,26.16,.95,26.5,.88,26.2,.73,26.57,.75,27.8,.94,27.95,.77,27.27,.6];
const lqTpccOrange=[2.3,11.3,2.41,9.4,3.87,11.6,3.85,7.35,2.3,5.55,3.15,3.25,3.25,2.67,2.26,2.58,2.19,2.22,2.41,1.28,2.98,1.32,3.74,1.34,3.61,1.2,2.26,1.09,3.04,1.1,3.74,1.08,3.61,1,2.68,.91,2.41,.88,3.04,.94,3.47,.88,3.15,.87,2.66,.73,3.13,.675,3.81,.7,2.94,.55,
5.48,13,5.63,9.2,5.1,8.2,5.61,6.15,6.33,5.65,6.33,3.1,6.01,3.04,5.01,2.42,6.92,2.34,5.52,1.26,6.14,1.37,6.58,1.15,5.12,1.09,5.78,1.13,6.71,1.09,6.05,.99,6.28,.97,6.58,.97,5.01,.89,6.81,10.9,
8,8,8.97,10.5,9.33,7.45,8.44,6.45,8.7,2.15,8.91,2.5,9.89,1.18,8.51,1.14,8.7,1.08,8.23,.97,9.12,1.03,9.4,1,8.4,.85,8.87,.82,9.4,.87,9.82,.8,9.93,.75,8.13,.77,8.06,.7,
12.85,8.8,12.19,7.1,11.03,2.34,12.05,2.42,12.36,2.3,12.92,2.26,12.89,2.58,11.05,1.56,12.77,1.53,11.16,1.1,12.05,1.1,12.79,1.18,11.24,1,11.88,.91,11.62,.85,12.96,.92,11.69,.77,
15.92,10.7,15.65,9.4,15.54,6.75,14.95,6.7,14.27,5.55,14.48,5.75,15.44,3.5,14.27,3.83,14.27,2.8,14.27,2.42,14.48,2.34,14.59,1.95,14.63,1.53,14.06,1.23,14.31,1.07,14.69,.94,15.48,1.05,15.92,.97,15.86,.82,15.8,.71,
18.25,15.6,18.51,11.3,17.94,7.35,17.24,5.65,18.51,6,17.34,3.58,18.51,4.95,18.87,3.83,18.68,4.2,18.3,3.58,17.09,2.76,17.39,2.45,17.92,2.34,18.15,2.3,18.93,2.19,17.09,1.27,17.87,1.14,18.78,.95,17.6,1.1,17.56,.94,17.03,.82,17.45,.77,17.87,.91,
20.78,10.9,20.52,9.5,20.08,10.2,20.1,6.45,20.95,6.45,21.47,2.5,21.31,2.15,20.42,1.36,21.86,1.24,21.58,1.18,20.1,1.1,20.31,1.09,21.05,1.07,21.2,.99,20.42,.87,20.78,.88,21.83,.88,21.79,.72,21.22,.75,21.05,.65,
24.76,12,24.86,7.85,23.42,6.35,24.44,5.3,23.15,4.6,24.72,3.35,23.38,3.07,24.02,3.15,23.59,2.85,24.44,2.95,24.72,2.45,24.12,2.19,23.87,2.08,24.65,1.27,23.87,1.14,24.33,1.03,24.97,.94,23.06,.92,23.49,.88,24.65,.88,23.06,.77,24.86,.75,24.5,.75,
26.77,10.9,26.92,6.2,27.45,6,26.67,4.65,27.89,4.8,27.62,4.75,27.89,4.07,26.03,3.63,26.24,3.2,27.66,3.46,26.62,3.15,26.35,2.58,26.67,2.67,27.83,2.85,26.52,2.22,27.62,1.99,26.71,1.22,26.07,1.1,27.05,1.08,27.89,1.07,26.62,.88,26.94,.8,26.03,.7,26.19,.71];
const dryTpccOrange=[.09,5.1,.5,4.8,.64,4.5,.27,3.75,1.18,4.8,1,2.67,1.5,2.65,1.7,2.4,2.14,6.2,2.2,5.4,2.6,5.3,1.93,3.75,2,3.25,2.36,2.67,2.73,3.95,2.73,3.45,2.91,2.6,3.16,3,3.36,2.8,2.14,1.8,3.55,5.1,3.64,4.07,4.11,4.8,4.27,5.1,4.27,4.55,4.11,3.25,4.36,3.55,4.57,3.7,4.82,5.1,4.95,4.8,5.32,4.05,5.66,4.35,4.82,2.67,5.09,2.3,5.39,2.99,5.61,2.5,5.18,8,2.39,11,2.52,10,3.05,10.6,3.11,9.1,4,1.8,4.39,1.48,
.11,1.15,.52,1.1,1,1.28,1.45,1.31,1.39,1.07,1.36,.97,.07,.89,.2,.82,.59,.94,.73,.85,.91,.72,1.34,.82,2,.67,2.05,.77,2.5,.72,2.39,.92,2.7,1,2.91,1.18,3.07,1,2.95,.87,3.36,1.12,3.59,.94,3.27,.72,3.55,.76,3.34,.54,3.95,1.09,4.14,.72,4.07,.97,4.39,1.05,4.45,.87,4.77,1.25,5,1.03,5.14,1.03,5.18,.83,5.5,.88,5.77,1.03,5.82,.88,6,1.07,6.18,1.14,6.14,.93,6.34,.82,6.3,.72,4.95,.66,5.09,.59,
6.6,14.6,7.02,11.3,7.75,10,8.5,12,10.05,11.4,6.14,5.9,6.34,5.9,6.57,5.9,6.8,5.75,6.41,4.75,6.73,4.75,7.36,4.75,7.66,4.5,7.48,4.15,7.14,4,7.98,5.5,8.82,5.25,9,6.15,8.48,3.75,6.93,3.15,7.2,2.85,7.45,3.25,7.36,2.63,7.66,2.76,8.32,2.9,8.34,2.45,8.2,2.22,7.05,2.22,7.43,1.71,9.55,4.05,10.18,4.15,10.05,3.5,10.34,6.75,9.91,2.85,9.91,2.5,10.23,2.65,11.07,1.99,11.45,2.1,10.77,4.75,10.95,5.3,11.1,4.55,11.36,4.1,11.55,4.55,11.93,5.3,11.61,3.35,12.3,4.87,12.64,4.68,13.09,6.25,13.05,4.2,13.11,4.05,12.43,3.25,12.18,2.7,12.36,2.85,12.41,2.28,13.23,3.1,13.7,2.67,13.64,2.5,13.77,2.05,14.09,4.25,14.36,4.5,14.2,3.2,14.18,2.47,14.57,2.8,14.77,2.95,14.75,4.07,14.82,4.8,15.02,4.35,15.07,6.67,15.09,3.46,15.32,2.85,15.32,2.26,15.66,4.55,15.5,3.7,15.91,3.04,16,4.35,15.95,3.7,16.07,7.85,16.23,7.1,15.66,2.26,16.05,2.02,16.25,2.53,16.39,2.34,16.36,4.07,16.5,5.55,16.91,5.35,17.07,6.67,16.86,4.35,17.02,3.99,16.8,2.34,16.93,2.26,17.7,5.3,17.73,4.15,17.95,3.63,17.82,3.25,17.82,2.85,17.55,2.34,17.77,2.19,17.66,1.92,18.3,2.45,18.55,3.9,17.61,10.9,17.98,9.9,18.68,9.4,19.48,8.55,19.91,8.2,20.3,6.67,19.52,5.05,19.52,4.65,19.86,4.4,19.82,3.83,20.14,3.83,20.41,4.2,20.61,4.9,19.91,2.85,20.36,2.88,20.5,3.1,19.27,2.63,19.98,2.31,20.2,2.16,20.64,2.5,21.11,2.12,19.18,1.8,19.68,1.72,21.52,6.25,21.84,5.55,22.34,6.75,22.7,5.65,22.93,6.5,21.57,3.83,21.91,3.95,22.05,4.35,22.36,4.35,22.64,4.3,22.89,4.4,23.25,4.8,23.36,5.2,23.8,6.7,23.8,5.75,24.18,5.4,24.3,9.5,25.91,9.4,27.09,10.7,27.5,11.6,28.5,7.75,29.86,9.2,24.84,5.85,24.59,4.35,24.8,4.8,24.64,3.83,24.25,4.07,23.89,3.58,24.18,3.46,23.89,3.04,24.14,2.95,23.41,3.2,23.07,2.67,22.25,3.15,22.18,2.95,22.07,2.63,22.5,2.37,22.55,1.8,23.43,1.95,23.8,1.5,22.59,1.4,24.82,1.74,25.59,1.84,25.09,2.58,25.27,2.67,25.5,2.7,26.18,2.63,25.36,4.9,25.5,5.4,25.34,3.87,25.73,4,26.61,3.4,26.84,5.4,26.86,2.24,27.32,6.45,27.41,5.5,27.34,4.55,27.32,3.75,27.34,2.85,27.3,2.55,27.7,4.87,28.11,4.45,27.84,3.04,28.18,2.24,28.57,3.58,28.64,3.15,29,3.58,29.09,3.2,29.39,4.07,29.45,5.55,28.86,5,28.91,5.4,29.41,2.9,29.68,2.92,29.95,3.4,28.86,2.45,28.86,1.84,
6.68,1.32,7,1.33,6.93,.95,7.36,.73,8.07,1.5,8.23,1.3,8.34,1.22,8.11,1.09,8.43,.98,8.11,.8,8.75,1.4,8.89,1.14,9.11,1.58,9.48,1.58,9.55,1.39,9.39,1.23,9.64,1.26,9.89,1.23,9.25,1.03,9.18,.88,8.98,.75,9.32,.555,10.57,1.32,10.66,1.18,10.95,1.07,10.55,.85,10.82,.65,11.68,1.48,11.91,1.33,11.73,1.07,11.41,1.02,11.52,.88,11.75,.85,11.77,.75,12.2,.8,12.41,.94,12.95,1.18,13.55,1.58,13.66,1.1,13.32,1.03,13.3,.89,13.57,.75,13.84,.68,14.18,1.02,14.34,.99,14.23,.8,14.59,1.32,14.66,.95,14.89,1.14,14.91,.94,14.66,.7,15.02,.62,15.32,.77,15.43,.75,15.91,1.5,15.82,.91,16.23,.92,16.45,1.03,16.91,1,16.82,.87,17.02,.77,17.05,.565,17.18,1.22,17.59,1.45,17.41,1,17.59,1.03,18.18,1.39,17.91,.88,18.2,.94,18,.54,18.27,.65,18.66,1.1,19.07,1.09,19.3,1.07,19.18,.91,19.41,.94,19.52,.88,19.75,.88,19.48,.77,19.82,.66,19.98,1.28,20.55,1.5,20.2,.91,20.48,.88,20.39,.71,20.66,1,20.93,1.16,21.3,1.18,21.57,1.07,21.68,.97,21.34,.75,21.91,1,22.25,1.22,21.95,.72,22.3,.76,22.66,.89,22.93,1,23.27,1.13,22.93,.78,23.27,.82,23.57,.87,23.86,.8,24.14,1.01,24.52,.85,24.86,.88,24.59,.67,24.86,.7,25.09,1.07,25.43,1.03,25.5,.82,25.84,1.18,25.77,.91,26.18,1.07,26.34,1.14,26.14,.675,26.36,.72,26.86,1.05,26.82,.82,27.32,1.26,27.64,1.14,27.36,.97,27.43,.75,27.5,.64,27.93,1.48,28.05,1.01,27.93,.88,28.23,.82,28.18,.7,28.66,1.22,28.73,1.45,28.5,.91,28.84,.97,29.02,1.14,29.16,1.37,29.43,1.26,28.73,.67,29.23,.75,29.45,.97,29.68,.88,29.95,.99,30,.67];
// ---------- callouts: labelT,labelMs,targetT,targetMs,text ----------
const gqNoopLabels=[[2.11,17.2,6,1.96,'2.1'],[2.11,4.71,3,1.96,'2.1'],[5.59,17.2,9,1.96,'2.1'],[8.73,17.2,9,1.96,'2.1'],[11.86,17.2,12,1.96,'2.1'],[15.02,17.2,15,1.96,'2.1'],[18.16,17.2,18.39,6.5,'6.5'],[21.32,17.2,21,1.96,'2.1'],[24.45,17.2,24,1.96,'2.1'],[27.61,17.2,27,1.96,'2.2']];
const dryNoopLabels=[[.2,17.2,.2,4.05,'4.1']];
const lqNoopLabels=[[2.09,17.2,3,2.05,'2.1'],[5.56,17.2,6,1.98,'2.0'],[9.04,17.2,8.99,1.95,'2.0'],[12.51,7.12,11.92,1.31,'1.3'],[15.99,3.91,15.53,1.31,'1.3'],[16.81,17.2,18.2,2.25,'2.2'],[20.27,17.2,21,1.29,'1.3'],[23.74,7.12,24.6,1.31,'1.3'],[27.22,17.2,27,1.98,'2.0']];
const gqYcsbLabels=[[2.11,17.3,1.82,4.99,'4.7'],[5.48,17.3,5.23,4.8,'4.6'],[8.84,17.3,8.86,5.41,'5.3'],[12.18,17.3,12.45,5.67,'5.6'],[15.55,17.3,13.91,5,'4.8'],[18,9.3,16.82,4.67,'4.5'],[21.16,17.3,20.05,5.41,'5.2'],[24.64,10.3,23.82,5.55,'5.3'],[27.61,17.3,26.64,5.67,'5.7']];
const dryYcsbLabels=[[20.64,17.3,21.11,7,'7.0']];
const lqYcsbLabels=[[2.11,12.1,3.59,5.56,'5.5'],[5.27,17.3,4.93,5.9,'5.9'],[8.76,17.3,9.38,7.1,'7.1'],[12.24,17.3,12.66,6.2,'6.2'],[15.71,17.3,14.08,5.8,'5.8'],[19.19,17.3,18.23,7,'7.0'],[21.6,9.34,20.7,4.9,'4.7'],[24.12,17.3,23.61,5.8,'5.6'],[27.6,17.3,26.07,4.47,'4.2']];
const gqTpccLabels=[[2.5,17.2,2.91,16.4,'16.6'],[3.8,.895,6.43,21.4,'21.4'],[6.77,3.9,8.14,15.9,'16.0'],[10.05,17.2,12.34,17,'17.0'],[13.75,17.2,15.11,16.9,'17.0'],[17.16,17.2,17.07,9.4,'9.4'],[19.55,17.2,21.18,15.3,'15.3'],[21.32,3.9,23.52,23.3,'23.3'],[25.57,10.4,28.27,20.7,'20.7']];
const dryTpccLabels=[[18.2,17.2,18.73,25.9,'25.9']];
const lqTpccLabels=[[2.51,17.2,3.25,16.2,'16.2'],[3.89,3.9,6.26,17.2,'17.4'],[8.13,17.2,9.97,15.6,'15.8'],[8.13,3.9,11.5,19,'18.8'],[12.41,3.9,14.48,16.1,'15.9'],[16.18,17.2,17.87,16.6,'15.5'],[19.61,17.2,20.31,15.4,'15.4'],[21.11,3.9,23.61,22,'22.1'],[25.35,9.74,27.72,16.1,'16.4']];

// ---------- layout (reference pixels, scaled by S) ----------
const S=4096/4349;
const colX=[[271,1488],[1529,2962],[3004,4220]];
const rowY=[[141,655],[696,1208],[1250,1762]];
const xExt=[[.415,29.28],[-1.5,32.5],[.415,29.28]];
const yMin=.0241,yMax=35.7;
const FONT='"Liberation Sans"';
const pairs=a=>{const o=[];for(let i=0;i+1<a.length;i+=2)o.push([a[i],a[i+1]]);return o;};
const pathX='path://M0 0L10 10M0 10L10 0';
const pathCircleX='path://M0 5A5 5 0 1 1 10 5A5 5 0 1 1 0 5ZM1.46 1.46L8.54 8.54M1.46 8.54L8.54 1.46';
const pathStar='path://M5 0L5 10M0 5L10 5M1.46 1.46L8.54 8.54M1.46 8.54L8.54 1.46';

const panels=[
 {c:0,r:0,gray:gqNoopGray,orange:gqNoopOrange,gb:gqNoopGrayBand,ob:gqNoopOrangeBand,rounds:roundsPlain,red:redGqNoop,blue:blueGqNoop,labels:gqNoopLabels},
 {c:1,r:0,gray:dryNoopGray,orange:dryNoopOrange,gb:dryNoopGrayBand,ob:dryNoopOrangeBand,labels:dryNoopLabels},
 {c:2,r:0,gray:lqNoopGray,orange:lqNoopOrange,gb:lqNoopGrayBand,ob:lqNoopOrangeBand,rounds:roundsPlain,red:redLqNoop,blue:blueLqNoop,labels:lqNoopLabels},
 {c:0,r:1,gray:gqYcsbGray,orange:gqYcsbOrange,gb:gqYcsbGrayBand,ob:gqYcsbOrangeBand,rounds:roundsGqYcsb,red:redGqYcsb,blue:blueGqYcsb,labels:gqYcsbLabels},
 {c:1,r:1,gray:dryYcsbGray,orange:dryYcsbOrange,gb:dryYcsbGrayBand,ob:dryYcsbOrangeBand,labels:dryYcsbLabels},
 {c:2,r:1,gray:lqYcsbGray,orange:lqYcsbOrange,gb:lqYcsbGrayBand,ob:lqYcsbOrangeBand,rounds:roundsLqYcsb,red:redLqYcsb,blue:blueLqYcsb,labels:lqYcsbLabels},
 {c:0,r:2,gray:gqTpccGray,orange:gqTpccOrange,gb:[],ob:[],rounds:roundsPlain,red:redGqTpcc,blue:blueGqTpcc,labels:gqTpccLabels},
 {c:1,r:2,gray:dryTpccGray,orange:dryTpccOrange,gb:[],ob:[],labels:dryTpccLabels},
 {c:2,r:2,gray:lqTpccGray,orange:lqTpccOrange,gb:[],ob:[],rounds:roundsPlain,red:redLqTpcc,blue:blueLqTpcc,labels:lqTpccLabels},
];

const grid=[],xAxis=[],yAxis=[],series=[];
const axisFont={fontFamily:FONT,fontWeight:'bold',fontSize:58,color:'#4D4D4D'};
const tickStyle={lineStyle:{color:'#333333',width:3.8},length:19};

function bandSeries(p,i,rows,color,z,rad){return {type:'custom',xAxisIndex:i,yAxisIndex:i,z,silent:true,animation:false,clip:true,data:rows,
  renderItem:(ps,api)=>{const a=api.coord([api.value(0),api.value(3)]),b=api.coord([api.value(1),api.value(2)]);
    return {type:'rect',shape:{x:a[0],y:a[1],width:b[0]-a[0],height:b[1]-a[1],r:rad},style:{fill:color}};}};}

panels.forEach((p,i)=>{
  const [x0,x1]=colX[p.c],[y0,y1]=rowY[p.r];
  grid.push({left:x0*S,top:y0*S,width:(x1-x0)*S,height:(y1-y0)*S,show:false});
  const ticks=p.c===1?xTicksDry:xTicksRound;
  const xa={gridIndex:i,type:'value',min:xExt[p.c][0],max:xExt[p.c][1],splitLine:{show:false},axisLine:{show:false},
    axisTick:{show:p.r===2,customValues:ticks,...tickStyle},axisLabel:{show:p.r===2,customValues:ticks,margin:15,...axisFont,formatter:v=>String(v)}};
  if(p.r===2&&p.c===1){xa.name='Time [s]';xa.nameLocation='middle';xa.nameGap=92;xa.nameTextStyle={fontFamily:FONT,fontWeight:'bold',fontSize:71.6,color:'#000'};}
  xAxis.push(xa);
  const ya={gridIndex:i,type:'log',logBase:10,min:yMin,max:yMax,splitLine:{show:false},axisLine:{show:false},
    axisTick:{show:p.c===0,customValues:yTicks,...tickStyle},axisLabel:{show:p.c===0,customValues:yTicks,margin:21,...axisFont,formatter:v=>Number(v).toFixed(1)}};
  if(p.r===1&&p.c===0){ya.name='Latency [ms]';ya.nameLocation='middle';ya.nameGap=165;ya.nameRotate=90;ya.nameTextStyle={fontFamily:FONT,fontWeight:'bold',fontSize:71.6,color:'#000'};}
  yAxis.push(ya);
  const xMaj=p.c===1?xMajorDry:xMajorRound,xMin=p.c===1?xMinorDry:xMinorRound;
  const gridRows=[...xMin.map(v=>['x',v,3.6]),...yMinor.map(v=>['y',v,3.6]),...xMaj.map(v=>['x',v,6.6]),...yMajor.map(v=>['y',v,6.6])];
  series.push({type:'custom',xAxisIndex:i,yAxisIndex:i,z:1,silent:true,animation:false,clip:true,data:gridRows.map((g,k)=>[g[0]==='x'?g[1]:xExt[p.c][0],g[0]==='y'?g[1]:yMin,k]),
    renderItem:(ps,api)=>{const g=gridRows[ps.dataIndex],cs=ps.coordSys;const pt=api.coord(g[0]==='x'?[g[1],yMin]:[xExt[p.c][0],g[1]]);
      return {type:'line',shape:g[0]==='x'?{x1:pt[0],y1:cs.y,x2:pt[0],y2:cs.y+cs.height}:{x1:cs.x,y1:pt[1],x2:cs.x+cs.width,y2:pt[1]},style:{stroke:'#EBEBEB',lineWidth:g[2]}};}});
  if(p.rounds){
    series.push({type:'custom',xAxisIndex:i,yAxisIndex:i,z:2,silent:true,animation:false,data:p.rounds.map(v=>[v,1]),
      renderItem:(ps,api)=>{const pt=api.coord([api.value(0),1]),cs=ps.coordSys;
        return {type:'line',shape:{x1:pt[0],y1:cs.y,x2:pt[0],y2:cs.y+cs.height},style:{stroke:'#5A5A5A',lineWidth:2.6,lineDash:[13,10]}};}});
  }
  if(p.gb.length)series.push(bandSeries(p,i,p.gb,'#6E6E6E',3,p.r===0?5:7));
  series.push({type:'scatter',name:'Latency above threshold',xAxisIndex:i,yAxisIndex:i,z:3,animation:false,symbolSize:14,itemStyle:{color:'#6E6E6E'},data:pairs(p.gray)});
  if(p.ob.length)series.push(bandSeries(p,i,p.ob,'#FFA500',4,p.r===0?7:13));
  if(p.orange.length)series.push({type:'scatter',name:'Latency',xAxisIndex:i,yAxisIndex:i,z:4,animation:false,symbolSize:14,itemStyle:{color:'#FFA500'},data:pairs(p.orange)});
  if(p.rounds){
    series.push({type:'scatter',name:'Threads reached',xAxisIndex:i,yAxisIndex:i,z:6,animation:false,
      symbol:p.c===0?pathCircleX:pathStar,symbolSize:p.c===0?25:34,itemStyle:{color:'none',borderColor:'#0066FF',borderWidth:p.c===0?4.2:4},
      data:p.rounds.map((t,k)=>[t,p.blue[k]])});
    series.push({type:'scatter',name:'Patch prepared',xAxisIndex:i,yAxisIndex:i,z:7,animation:false,
      symbol:pathX,symbolSize:[25,28],itemStyle:{color:'none',borderColor:'#FF0000',borderWidth:4},
      data:p.rounds.map((t,k)=>[t,p.red[k]])});
  }
  const labs=p.labels;
  series.push({type:'custom',xAxisIndex:i,yAxisIndex:i,z:10,silent:true,animation:false,clip:false,data:labs.map(l=>[l[0],l[1],l[2],l[3]]),
    renderItem:(ps,api)=>{const l=labs[ps.dataIndex];const a=api.coord([l[0],l[1]]),b=api.coord([l[2],l[3]]);
      const w=(l[4].length>3?128:96)*S,h=56*S;
      return {type:'group',children:[
        {type:'line',shape:{x1:a[0],y1:a[1],x2:b[0],y2:b[1]},style:{stroke:'#000',lineWidth:3.4}},
        {type:'rect',shape:{x:a[0]-w/2,y:a[1]-h/2,width:w,height:h,r:10},style:{fill:'#fff',stroke:'#000',lineWidth:3.6}},
        {type:'text',style:{text:l[4],x:a[0],y:a[1]+1,align:'center',verticalAlign:'middle',font:'57px '+FONT,fill:'#000'}}
      ]};}});
});

// ---------- frames, strips, headers, arrows, legend ----------
const g=[];
const stripFont=(sz)=>'bold '+sz+'px '+FONT;
panels.forEach(p=>{const [x0,x1]=colX[p.c],[y0,y1]=rowY[p.r];
  g.push({type:'rect',z:30,silent:true,shape:{x:x0*S,y:y0*S,width:(x1-x0)*S,height:(y1-y0)*S},style:{fill:'none',stroke:'#333333',lineWidth:4}});});
columnNames.forEach((n,c)=>{const [x0,x1]=colX[c];
  g.push({type:'rect',z:31,silent:true,shape:{x:x0*S,y:26*S,width:(x1-x0)*S,height:115*S},style:{fill:'#D9D9D9',stroke:'#333333',lineWidth:4}});
  g.push({type:'text',z:32,silent:true,x:(x0+x1)/2*S,y:83*S,style:{text:n,align:'center',verticalAlign:'middle',font:stripFont(58.4),fill:'#1A1A1A'}});});
rowNames.forEach((n,r)=>{const [y0,y1]=rowY[r];
  g.push({type:'rect',z:31,silent:true,shape:{x:4220*S,y:y0*S,width:117*S,height:(y1-y0)*S},style:{fill:'#D9D9D9',stroke:'#333333',lineWidth:4}});
  g.push({type:'text',z:32,silent:true,x:4279*S,y:(y0+y1)/2*S,rotation:-Math.PI/2,style:{text:n,align:'center',verticalAlign:'middle',font:stripFont(58.4),fill:'#1A1A1A'}});});
const headF='65.9px '+FONT;
g.push({type:'text',z:40,silent:true,x:763*S,y:26,style:{text:'Benchmarking Framework: BenchBase [1]',align:'center',verticalAlign:'bottom',font:headF,fill:'#000'}});
g.push({type:'text',z:40,silent:true,x:2266*S,y:26,style:{text:'round number  X  3 seconds',align:'center',verticalAlign:'bottom',font:headF,fill:'#000'}});
g.push({type:'text',z:40,silent:true,x:3689*S,y:26,style:{text:'Debian Linux with WFI Arch. Kernel (v6.11)',align:'center',verticalAlign:'bottom',font:'63.7px '+FONT,fill:'#000'}});
const ARROW='#0A33FF';
g.push({type:'bezierCurve',z:40,silent:true,shape:{x1:1706*S,y1:-6*S,cpx1:1630*S,cpy1:45*S,cpx2:1500*S,cpy2:95*S,x2:1240*S,y2:90*S},style:{stroke:ARROW,lineWidth:12.5,fill:'none'}});
g.push({type:'polygon',z:40,silent:true,shape:{points:[[1244*S,64*S],[1191*S,88*S],[1244*S,117*S]]},style:{fill:ARROW}});
g.push({type:'bezierCurve',z:40,silent:true,shape:{x1:2858*S,y1:-6*S,cpx1:2920*S,cpy1:50*S,cpx2:3040*S,cpy2:82*S,x2:3265*S,y2:82*S},style:{stroke:ARROW,lineWidth:12.5,fill:'none'}});
g.push({type:'polygon',z:40,silent:true,shape:{points:[[3261*S,55*S],[3314*S,82*S],[3261*S,108*S]]},style:{fill:ARROW}});
// legend
g.push({type:'circle',z:40,silent:true,shape:{cx:57*S,cy:1930*S,r:33*S},style:{fill:'none',stroke:'#0066FF',lineWidth:4.6}});
g.push({type:'line',z:40,silent:true,shape:{x1:34*S,y1:1907*S,x2:80*S,y2:1953*S},style:{stroke:'#0066FF',lineWidth:4.6}});
g.push({type:'line',z:40,silent:true,shape:{x1:34*S,y1:1953*S,x2:80*S,y2:1907*S},style:{stroke:'#0066FF',lineWidth:4.6}});
g.push({type:'line',z:40,silent:true,shape:{x1:2873*S,y1:1902*S,x2:2930*S,y2:1959*S},style:{stroke:'#FF0000',lineWidth:4.6}});
g.push({type:'line',z:40,silent:true,shape:{x1:2873*S,y1:1959*S,x2:2930*S,y2:1902*S},style:{stroke:'#FF0000',lineWidth:4.6}});
g.push({type:'text',z:40,silent:true,x:112*S,y:1855,style:{text:'Elapsed time until all threads reached',align:'left',verticalAlign:'bottom',font:headF,fill:'#000'}});
g.push({type:'text',z:40,silent:true,x:2950*S,y:1855,style:{text:'Elapsed time for preparing the patch',align:'left',verticalAlign:'bottom',font:headF,fill:'#000'}});

const chart=echarts.init(document.getElementById('c'),null,{renderer:'canvas'});
chart.setOption({animation:false,backgroundColor:'#fff',grid,xAxis,yAxis,series,graphic:{elements:g}});
</script></body></html>
